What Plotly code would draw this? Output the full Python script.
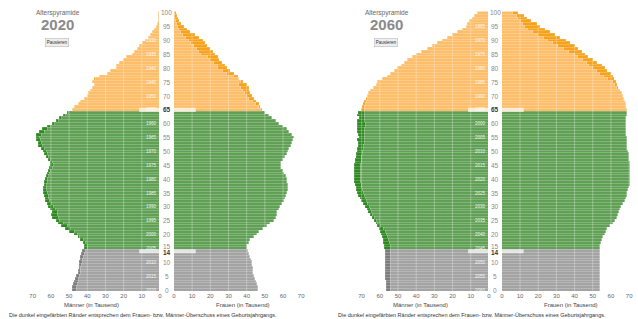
import plotly.graph_objects as go

ages = list(range(0, 101))

male_2020 = [48, 48, 47.5, 47, 46.5, 46, 45, 44.5, 44, 44, 44, 43.5, 43.5, 43, 42.5, 41.5, 41.5, 42, 43.5, 45,
             47, 49.5, 52, 54, 56, 57, 59, 59.5, 59, 60, 61.5, 62, 63, 63, 63.5, 64, 64, 64, 63.5, 63.5,
             63, 62.5, 62, 61.5, 60.5, 60, 60, 61, 62.5, 63.5, 64, 65, 66.5, 67, 68, 68, 68, 66, 64.5, 62,
             59, 57, 55, 53, 51, 48, 47, 45, 43.5, 41.5, 40, 39, 38, 37, 36, 37, 36, 33, 29, 27,
             24, 24, 22, 20, 18.5, 15, 14, 12.5, 11, 9.5, 8, 6.5, 5, 4, 3, 2, 1.5, 1, 0.7, 0.5, 0.5]
female_2020 = [46, 46, 45.5, 45, 44.5, 44, 43.5, 43.5, 43.4, 43, 42.8, 42.3, 41.8, 41.3, 40.7, 40, 40, 41, 42, 44,
               45.5, 47, 49, 51, 53, 55, 56, 56.5, 56.5, 57.5, 58.5, 59.5, 60.5, 61, 61.5, 62, 62.5, 62.5, 62.5, 62,
               62, 61.5, 60.5, 60, 59, 58.6, 59, 60, 61, 62, 62.5, 63.5, 64.5, 65, 65.5, 66, 65, 63.5, 62, 60,
               58, 56, 54, 52, 50, 48.5, 47.5, 46.5, 45, 44, 43, 42, 41.5, 41, 40, 38, 35.5, 35, 33, 31,
               29, 28, 26.5, 25, 24, 22.8, 21.5, 20, 18, 17, 15.7, 13.5, 11.5, 9, 7, 5.4, 4, 3, 2.2, 1.5, 1]
male_2060 = [56.5, 56.5, 56.5, 56.5, 56.6, 56.6, 56.7, 56.7, 56.8, 56.8, 56.9, 57, 57, 57, 57, 57.2, 57.5, 57.8, 58.2, 58.6,
             59, 59.5, 60.2, 61, 62, 63, 64, 65, 66, 67, 68, 69, 70, 70.8, 71.5, 72, 72.6, 73, 73.4, 73.7,
             74, 74, 74, 74, 74, 73.8, 73.5, 73.2, 73, 72.8, 72.5, 72, 71.5, 71.5, 72, 71, 71.5, 72.5, 72, 72.5,
             72.5, 72, 71, 72, 71.5, 70, 69.5, 69, 68.5, 67.5, 67, 66, 65, 63.5, 62, 61, 58.5, 56, 54, 52,
             50, 48, 46.5, 44.5, 42, 40, 37, 34, 31, 28, 25.5, 23, 20, 17, 14.5, 12.5, 11.5, 10.5, 9, 8, 6]
female_2060 = [54, 54, 54, 54, 54, 54, 54, 54, 54, 54, 54, 54, 54, 54, 54, 54, 54, 54.5, 55, 55.5,
               56.5, 57, 58, 59.5, 61, 62, 63, 64, 64.5, 65, 65.5, 66.5, 67.5, 68, 68.5, 69, 69.5, 70, 70.3, 70.5,
               70.6, 70.6, 70.6, 70.6, 70.5, 70.5, 70.2, 70, 69.8, 69.6, 69.5, 69, 68.8, 68.5, 68.5, 68.5, 68.3, 68.3, 68.2, 68,
               68, 68.2, 68.3, 68.5, 68.5, 68.5, 68.4, 68, 67.5, 67, 66.7, 66, 65, 64, 63.2, 62.5, 61.5, 60.8, 60, 58,
               56.5, 55, 52, 50, 47.5, 45.5, 44, 42, 40, 37.5, 35, 32, 29, 26.5, 23.5, 21, 19, 16, 14, 12, 9]

years = [2020, 2060]
age_ticks = list(range(0, 101, 5))
x_ticks = [0, 10, 20, 30, 40, 50, 60, 70]

LIGHT = {"young": "#a3a3a3", "work": "#5fa055", "old": "#fdbd69"}
DARK = {"young": "#7d7d7d", "work": "#2e8a20", "old": "#f7a21c"}

W, H = 638, 319
PX = 1.83  # px per thousand
AGE_BOTTOM, AGE_TOP = 291.4, 11.6


def group(a):
    return "young" if a < 15 else ("work" if a < 65 else "old")


def px2paper_x(px):
    return px / W


def px2paper_y(py):
    return (H - py) / H


panels = [
    dict(year=2020, male=male_2020, female=female_2020, m0=159, f0=173, left=0),
    dict(year=2060, male=male_2060, female=female_2060, m0=490, f0=503, left=331),
]

fig = go.Figure()
layout = dict(
    width=W, height=H, margin=dict(l=0, r=0, t=0, b=0),
    paper_bgcolor="white", plot_bgcolor="white", barmode="stack", bargap=0,
    showlegend=False, font=dict(family="Liberation Sans, Arial, sans-serif", color="#555"),
)
ydom = [px2paper_y(AGE_BOTTOM), px2paper_y(AGE_TOP)]
layout["yaxis"] = dict(domain=ydom, range=[-0.5, 100.5], visible=False, fixedrange=True)
annotations = []
shapes = []

ax_i = 0
for p in panels:
    male, female = p["male"], p["female"]
    for side in ("m", "f"):
        ax_i += 1
        xname = "x" if ax_i == 1 else f"x{ax_i}"
        lname = "xaxis" if ax_i == 1 else f"xaxis{ax_i}"
        own = male if side == "m" else female
        other = female if side == "m" else male
        base = [min(a, b) for a, b in zip(own, other)]
        extra = [max(0, a - b) for a, b in zip(own, other)]
        sep = dict(width=0.4, color="rgba(255,255,255,0.3)")
        fig.add_trace(go.Bar(y=ages, x=base, orientation="h", xaxis=xname, yaxis="y",
                             marker=dict(color=[LIGHT[group(a)] for a in ages], line=sep)))
        fig.add_trace(go.Bar(y=ages, x=extra, orientation="h", xaxis=xname, yaxis="y",
                             marker=dict(color=[DARK[group(a)] for a in ages], line=sep)))
        if side == "m":
            d0 = p["m0"] - 75 * PX
            dom = [px2paper_x(d0), px2paper_x(p["m0"])]
            rng = [75, 0]
        else:
            d1 = min(W, p["f0"] + 75 * PX)
            dom = [px2paper_x(p["f0"]), px2paper_x(d1)]
            rng = [0, (d1 - p["f0"]) / PX]
        layout[lname] = dict(domain=dom, range=rng, anchor="y", tickvals=x_ticks,
                             ticktext=[str(t) for t in x_ticks], showgrid=False, zeroline=False,
                             showline=False, ticks="", tickfont=dict(size=6, color="#666"),
                             fixedrange=True)
        # grid lines over the bars
        for t in x_ticks[1:]:
            shapes.append(dict(type="line", xref=xname, yref="y", x0=t, x1=t, y0=-0.5, y1=100.5,
                               line=dict(color="rgba(255,255,255,0.3)", width=1), layer="above"))
        title = "Männer (in Tausend)" if side == "m" else "Frauen (in Tausend)"
        cxt = (dom[0] + dom[1]) / 2 if side == "m" else px2paper_x(p["f0"] + 70)
        annotations.append(dict(text=title, xref="paper", yref="paper",
                                x=cxt, y=px2paper_y(305), showarrow=False,
                                font=dict(size=6, color="#444"), xanchor="center", yanchor="middle"))
        if side == "m":
            mname = xname
    # birth year labels inside male bars
    for a in age_ticks[:-1]:
        annotations.append(dict(text=str(p["year"] - a), xref=mname, yref="y", x=4.9, y=a,
                                showarrow=False, font=dict(size=4.5, color="rgba(255,255,255,0.9)"),
                                xanchor="center", yanchor="middle"))
    # central age labels
    cx = px2paper_x((p["m0"] + p["f0"]) / 2)
    for a in [14, 65]:
        shapes.append(dict(type="rect", xref="paper", yref="y",
                           x0=px2paper_x(p["m0"] - 21), x1=px2paper_x(p["f0"] + 22),
                           y0=a - 0.75, y1=a + 0.75, line=dict(width=0),
                           fillcolor="rgba(255,255,255,0.7)", layer="above"))
    for a in age_ticks + [14]:
        bold = a in (14, 65)
        shift = {14: -1.5, 15: 1.5}.get(a, 0)
        annotations.append(dict(text=f"<b>{a}</b>" if bold else str(a), xref="paper", yref="y",
                                x=cx, y=a, yshift=shift, showarrow=False,
                                font=dict(size=6.5, color="#333" if bold else "#8a8a8a"),
                                xanchor="center", yanchor="middle"))
    # titles
    tx = px2paper_x(p["left"] + 56)
    annotations.append(dict(text="Alterspyramide", xref="paper", yref="paper", x=tx, y=px2paper_y(13),
                            showarrow=False, font=dict(size=6.5, color="#666"), xanchor="center", yanchor="middle"))
    annotations.append(dict(text=f"<b>{p['year']}</b>", xref="paper", yref="paper", x=tx, y=px2paper_y(25),
                            showarrow=False, font=dict(size=15, color="#8a8a8a"), xanchor="center", yanchor="middle"))
    annotations.append(dict(text="Pausieren", xref="paper", yref="paper", x=px2paper_x(p["left"] + 55),
                            y=px2paper_y(42), showarrow=False, font=dict(size=4.5, color="#333"),
                            bgcolor="#eeeeee", bordercolor="#bbbbbb", borderwidth=0.6, borderpad=1.2,
                            xanchor="center", yanchor="middle"))
    annotations.append(dict(text="Die dunkel eingefärbten Ränder entsprechen dem Frauen- bzw. Männer-Überschuss eines Geburtsjahrgangs.",
                            xref="paper", yref="paper", x=px2paper_x(p["left"] + 5), y=px2paper_y(315),
                            showarrow=False, font=dict(size=5.5, color="#333"), xanchor="left", yanchor="middle"))

layout["annotations"] = annotations
layout["shapes"] = shapes
fig.update_layout(**layout)
fig.write_html("out.html", config={"displayModeBar": False},
               post_script="document.body.style.margin='0px';")
